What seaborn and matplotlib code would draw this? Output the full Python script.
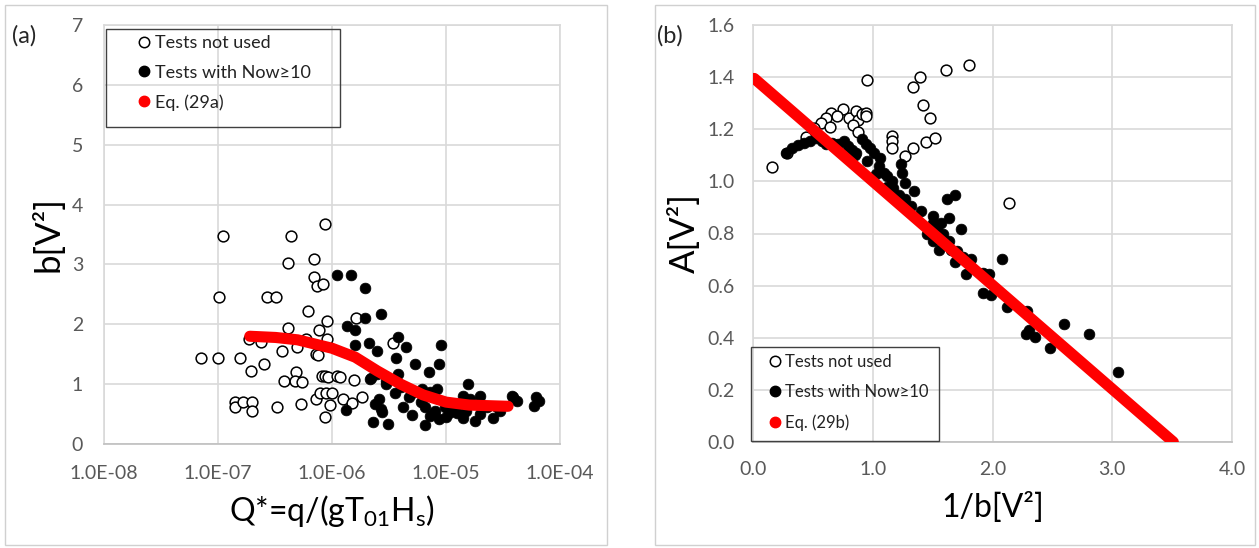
import numpy as np
import pandas as pd
import matplotlib
matplotlib.use("Agg")
import matplotlib.pyplot as plt
import seaborn as sns
from matplotlib.ticker import FuncFormatter, LogLocator
from matplotlib.lines import Line2D
from matplotlib.patches import Rectangle

# ---------------- data : panel (a) ----------------
a_unused_q = [1.10e-7, 4.39e-7, 8.6e-7, 4.1e-7, 7.0e-7, 6.9e-7, 7.4e-7, 8.4e-7, 1.03e-7, 2.7e-7,
              3.25e-7, 6.1e-7, 4.15e-7, 7.7e-7, 9.1e-7, 9.1e-7, 1.64e-6, 3.4e-6, 1.88e-7, 2.36e-7,
              5.9e-7, 3.66e-7, 4.9e-7, 7.2e-7, 7.6e-7, 7.1e-8, 1.0e-7, 1.57e-7, 1.93e-7, 2.54e-7,
              3.76e-7, 4.84e-7, 4.78e-7, 5.46e-7, 8.1e-7, 8.7e-7, 9.3e-7, 1.1e-6, 1.17e-6, 1.55e-6,
              1.42e-7, 1.42e-7, 1.67e-7, 2.0e-7, 2.0e-7, 3.3e-7, 5.4e-7, 7.2e-7, 7.9e-7, 8.8e-7,
              1.0e-6, 9.6e-7, 8.7e-7, 1.26e-6, 1.51e-6, 1.83e-6]
a_unused_b = [3.47, 3.47, 3.67, 3.02, 3.09, 2.79, 2.64, 2.67, 2.45, 2.45,
              2.45, 2.22, 1.94, 1.91, 2.06, 1.76, 2.11, 1.69, 1.76, 1.71,
              1.76, 1.56, 1.62, 1.51, 1.48, 1.43, 1.43, 1.43, 1.22, 1.34,
              1.06, 1.21, 1.06, 1.04, 1.14, 1.14, 1.12, 1.14, 1.12, 1.07,
              0.70, 0.62, 0.70, 0.70, 0.545, 0.61, 0.67, 0.75, 0.86, 0.86,
              0.86, 0.65, 0.45, 0.75, 0.69, 0.79]

a_used_q = [1.11e-6, 1.48e-6, 1.93e-6, 2.7e-6, 1.93e-6, 1.36e-6, 1.6e-6, 3.8e-6, 4.5e-6, 1.58e-6,
            2.1e-6, 2.47e-6, 3.64e-6, 5.4e-6, 9.1e-6, 8.7e-6, 7.1e-6, 2.16e-6, 2.47e-6, 3.76e-6,
            3.0e-6, 3.55e-6, 8.3e-6, 7.3e-6, 6.2e-6, 1.55e-5, 1.4e-5, 2.0e-5, 3.8e-5, 4.2e-5,
            5.9e-5, 6.5e-5, 2.4e-6, 2.7e-6, 2.6e-6, 1.32e-6, 2.3e-6, 3.1e-6, 4.2e-6, 5.0e-6,
            6.5e-6, 6.6e-6, 8.7e-6, 1.07e-5, 1.4e-5, 1.78e-5, 2.6e-5, 2.8e-5, 2.3e-5, 9.8e-6,
            1.26e-5, 7.2e-6, 1.62e-5, 4.7e-6, 7.8e-6, 2.2e-6, 2.75e-6, 3.9e-5, 6.2e-5, 3.0e-6,
            4.0e-6, 5.0e-6, 6.0e-6, 1.2e-5, 1.5e-5, 2.0e-5, 3.0e-5, 8.0e-6, 1.0e-5]
a_used_b = [2.83, 2.83, 2.60, 2.18, 2.10, 1.97, 1.90, 1.79, 1.62, 1.65,
            1.69, 1.56, 1.44, 1.34, 1.65, 1.34, 1.21, 1.08, 1.17, 1.17,
            1.00, 0.86, 0.92, 0.87, 0.92, 1.00, 0.80, 0.80, 0.80, 0.72,
            0.63, 0.72, 0.66, 0.58, 0.75, 0.57, 0.365, 0.33, 0.61, 0.49,
            0.61, 0.31, 0.41, 0.52, 0.44, 0.39, 0.43, 0.61, 0.61, 0.61,
            0.52, 0.47, 0.75, 0.78, 0.52, 1.10, 0.54, 0.78, 0.78, 1.05,
            0.95, 0.85, 0.70, 0.60, 0.55, 0.50, 0.55, 0.55, 0.45]

a_eq_q = [1.9e-7, 3.2e-7, 5.0e-7, 1.0e-6, 1.6e-6, 2.5e-6, 4.0e-6, 6.3e-6, 1.0e-5, 1.6e-5, 3.5e-5]
a_eq_b = [1.80, 1.78, 1.74, 1.60, 1.45, 1.22, 1.00, 0.82, 0.70, 0.65, 0.63]

# ---------------- data : panel (b) ----------------
b_unused_x = [0.157, 0.28, 0.953, 1.333, 1.397, 1.613, 1.80, 1.417, 1.48, 1.447,
              1.517, 1.333, 1.267, 1.163, 1.163, 1.163, 2.14, 0.65, 0.75, 0.70,
              0.607, 0.567, 0.64, 0.80, 0.857, 0.88, 0.833, 0.907, 0.947, 0.94,
              0.873, 0.44, 0.507]
b_unused_a = [1.057, 1.108, 1.389, 1.364, 1.402, 1.429, 1.445, 1.293, 1.243, 1.152,
              1.165, 1.129, 1.098, 1.176, 1.156, 1.129, 0.916, 1.263, 1.277, 1.25,
              1.243, 1.223, 1.209, 1.243, 1.27, 1.236, 1.216, 1.257, 1.263, 1.25,
              1.189, 1.169, 1.203]

b_used_x = [0.273, 0.323, 0.373, 0.423, 0.473, 0.523, 0.573, 0.607, 0.657, 0.707,
            0.757, 0.79, 0.823, 0.857, 0.907, 0.94, 0.973, 1.007, 1.057, 1.023,
            1.09, 1.123, 1.157, 1.173, 1.24, 1.247, 1.267, 1.223, 1.273, 1.347,
            1.323, 1.40, 1.50, 1.507, 1.567, 1.617, 1.69, 1.54, 1.59, 1.64,
            1.74, 1.507, 1.557, 1.64, 1.657, 1.707, 1.757, 1.823, 1.69, 1.78,
            1.923, 1.973, 2.08, 1.923, 1.99, 2.123, 2.29, 2.283, 2.357, 2.483,
            2.597, 2.807, 3.05, 2.307, 1.12, 1.30, 1.45, 0.85, 0.95, 1.05]
b_used_a = [1.108, 1.129, 1.138, 1.149, 1.156, 1.165, 1.156, 1.142, 1.149, 1.142,
            1.156, 1.135, 1.122, 1.108, 1.162, 1.142, 1.129, 1.108, 1.088, 1.028,
            1.034, 1.021, 1.001, 0.974, 1.068, 1.034, 0.994, 0.947, 0.933, 0.963,
            0.906, 0.886, 0.866, 0.839, 0.839, 0.933, 0.947, 0.812, 0.799, 0.859,
            0.819, 0.772, 0.738, 0.772, 0.738, 0.731, 0.711, 0.704, 0.691, 0.644,
            0.65, 0.644, 0.702, 0.57, 0.563, 0.518, 0.502, 0.415, 0.401, 0.361,
            0.451, 0.415, 0.269, 0.428, 0.98, 0.90, 0.80, 1.10, 1.08, 1.06]

b_eq_x = [0.01, 3.51]
b_eq_a = [1.395, 0.0]

a_xticks = [1e-8, 1e-7, 1e-6, 1e-5, 1e-4]
a_yticks = [0, 1, 2, 3, 4, 5, 6, 7]
b_xticks = [0.0, 1.0, 2.0, 3.0, 4.0]
b_yticks = [0.0, 0.2, 0.4, 0.6, 0.8, 1.0, 1.2, 1.4, 1.6]

# ---------------- style ----------------
sns.set_theme(style="white")
FONT = ["Lato", "DejaVu Sans"]
plt.rcParams["font.family"] = FONT
plt.rcParams["mathtext.fontset"] = "custom"
plt.rcParams["mathtext.rm"] = "Lato"
plt.rcParams["mathtext.it"] = "Lato"

W, H = 1259, 548
TICK_C = "#595959"
GRID_C = "#d9d9d9"
MS = 60
RED = "#ff0000"

fig = plt.figure(figsize=(W / 100, H / 100), dpi=100)


def fx(px):
    return px / W


def fy(py):
    return 1 - py / H


def frame(x0, y0, x1, y1, color, lw):
    fig.patches.append(Rectangle((fx(x0), fy(y1)), fx(x1) - fx(x0), fy(y0) - fy(y1),
                                 transform=fig.transFigure, fill=False, edgecolor=color,
                                 lw=lw, zorder=10))


# panel frames
frame(5, 5, 607, 545, "#d0d0d0", 1)
frame(655, 5, 1255, 545, "#d0d0d0", 1)

axA = fig.add_axes([fx(104), fy(444), fx(560) - fx(104), fy(25) - fy(444)])
axB = fig.add_axes([fx(753), fy(442), fx(1232) - fx(753), fy(25) - fy(442)])


def style_axis(ax, ypad, xpad):
    ax.grid(True, color=GRID_C, lw=1.2)
    ax.set_axisbelow(True)
    for s in ax.spines.values():
        s.set_color(GRID_C)
        s.set_linewidth(1.2)
    ax.spines["bottom"].set_color("#bfbfbf")
    ax.tick_params(axis="both", which="major", labelsize=14, colors=TICK_C, length=0)
    ax.tick_params(axis="y", pad=ypad)
    ax.tick_params(axis="x", pad=xpad)


# ----- panel (a) -----
df_au = pd.DataFrame({"q": a_unused_q, "b": a_unused_b})
df_ad = pd.DataFrame({"q": a_used_q, "b": a_used_b})
df_ae = pd.DataFrame({"q": a_eq_q, "b": a_eq_b})
sns.scatterplot(data=df_au, x="q", y="b", ax=axA, s=MS, marker="o", facecolor="white",
                edgecolor="black", linewidth=1.1, zorder=3)
sns.scatterplot(data=df_ad, x="q", y="b", ax=axA, s=MS, marker="o", color="black",
                edgecolor="black", linewidth=0.5, zorder=4)
sns.lineplot(data=df_ae, x="q", y="b", ax=axA, color=RED, lw=8, zorder=5,
             solid_capstyle="round", sort=False)
axA.set_xscale("log")
axA.set_xlim(1e-8, 1e-4)
axA.set_ylim(0, 7)
axA.set_xticks(a_xticks)
axA.set_yticks(a_yticks)
axA.xaxis.set_minor_locator(LogLocator(base=10, subs=np.arange(2, 10), numticks=20))
axA.xaxis.set_major_formatter(FuncFormatter(lambda v, p: f"{v:.1E}"))
style_axis(axA, 15, 15)
axA.tick_params(axis="x", which="minor", direction="in", length=5, color="#bfbfbf", width=1)
axA.grid(False, which="minor")
axA.set_xlabel(r"Q*=q/(gT$_{\mathrm{01}}$H$_{\mathrm{s}}$)", fontsize=23, color="black", labelpad=8)
axA.set_ylabel("b[V²]", fontsize=25, color="black", labelpad=5)

# legend (a): frame drawn separately, markers right before text as in Excel
frame(106, 29, 340, 127, "#404040", 1)
legA = [Line2D([], [], ls="", marker="o", ms=7.5, mfc="white", mec="black", mew=1.1, label="Tests not used"),
        Line2D([], [], ls="", marker="o", ms=7.5, mfc="black", mec="black", label="Tests with Now≥10"),
        Line2D([], [], ls="", marker="o", ms=7.5, mfc=RED, mec=RED, label="Eq. (29a)")]
lg = axA.legend(handles=legA, loc="upper left", bbox_to_anchor=(fx(139), fy(35)),
                bbox_transform=fig.transFigure, frameon=False, fontsize=13,
                handlelength=0.6, handletextpad=0.3, borderpad=0, labelspacing=0.75,
                borderaxespad=0)
for t in lg.get_texts():
    t.set_color("#222222")

fig.text(fx(12), fy(36), "(a)", fontsize=17, va="center", ha="left")

# ----- panel (b) -----
df_bu = pd.DataFrame({"x": b_unused_x, "a": b_unused_a})
df_bd = pd.DataFrame({"x": b_used_x, "a": b_used_a})
df_be = pd.DataFrame({"x": b_eq_x, "a": b_eq_a})
sns.scatterplot(data=df_bu, x="x", y="a", ax=axB, s=MS, marker="o", facecolor="white",
                edgecolor="black", linewidth=1.1, zorder=3)
sns.scatterplot(data=df_bd, x="x", y="a", ax=axB, s=MS, marker="o", color="black",
                edgecolor="black", linewidth=0.5, zorder=4)
sns.lineplot(data=df_be, x="x", y="a", ax=axB, color=RED, lw=8, zorder=5,
             solid_capstyle="round", sort=False)
axB.set_xlim(0, 4)
axB.set_ylim(0, 1.6)
axB.set_xticks(b_xticks)
axB.set_yticks(b_yticks)
axB.xaxis.set_major_formatter(FuncFormatter(lambda v, p: f"{v:.1f}"))
axB.yaxis.set_major_formatter(FuncFormatter(lambda v, p: f"{v:.1f}"))
style_axis(axB, 13, 14)
axB.set_xlabel("1/b[V²]", fontsize=23, color="black", labelpad=10)
axB.set_ylabel("A[V²]", fontsize=25, color="black", labelpad=5)

frame(751, 347, 939, 441, "#404040", 1)
legB = [Line2D([], [], ls="", marker="o", ms=7.5, mfc="white", mec="black", mew=1.1, label="Tests not used"),
        Line2D([], [], ls="", marker="o", ms=7.5, mfc="black", mec="black", label="Tests with Now≥10"),
        Line2D([], [], ls="", marker="o", ms=7.5, mfc=RED, mec=RED, label="Eq. (29b)")]
lg2 = axB.legend(handles=legB, loc="upper left", bbox_to_anchor=(fx(770), fy(354)),
                 bbox_transform=fig.transFigure, frameon=False, fontsize=12,
                 handlelength=0.6, handletextpad=0.3, borderpad=0, labelspacing=0.85,
                 borderaxespad=0)
for t in lg2.get_texts():
    t.set_color("#222222")

fig.text(fx(657), fy(36), "(b)", fontsize=17, va="center", ha="left")

fig.savefig("out.png", dpi=100)
